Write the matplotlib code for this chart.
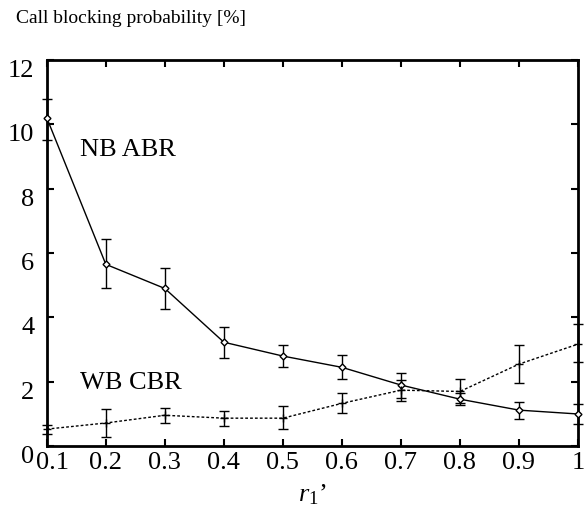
import matplotlib
matplotlib.use("Agg")
import matplotlib.pyplot as plt
import matplotlib.transforms as mtransforms

plt.rcParams["font.family"] = ["Liberation Serif", "DejaVu Serif"]
plt.rcParams["mathtext.fontset"] = "custom"
plt.rcParams["mathtext.rm"] = "Liberation Serif"
plt.rcParams["mathtext.it"] = "Liberation Serif:italic"

# r1' values
r1 = [0.1, 0.2, 0.3, 0.4, 0.5, 0.6, 0.7, 0.8, 0.9, 1.0]
x_labels = ["0.1", "0.2", "0.3", "0.4", "0.5", "0.6", "0.7", "0.8", "0.9", "1"]

# NB ABR call blocking probability [%] with error bar limits
nb_abr = [10.2, 5.65, 4.9, 3.23, 2.8, 2.45, 1.9, 1.46, 1.12, 1.0]
nb_hi = [10.8, 6.45, 5.53, 3.7, 3.14, 2.83, 2.27, 1.65, 1.37, 1.3]
nb_lo = [9.5, 4.9, 4.25, 2.73, 2.45, 2.08, 1.4, 1.27, 0.84, 0.7]

# WB CBR call blocking probability [%] with error bar limits
wb_cbr = [0.53, 0.72, 0.96, 0.87, 0.87, 1.33, 1.74, 1.7, 2.55, 3.17]
wb_hi = [0.65, 1.15, 1.18, 1.09, 1.24, 1.64, 2.05, 2.1, 3.15, 3.8]
wb_lo = [0.37, 0.3, 0.72, 0.62, 0.53, 1.02, 1.5, 1.35, 1.95, 2.6]

fig = plt.figure(figsize=(5.85, 5.17), dpi=100)
ax = fig.add_axes([0.08, 0.137, 0.908, 0.747])

nb_err = [[v - l for v, l in zip(nb_abr, nb_lo)], [h - v for v, h in zip(nb_abr, nb_hi)]]
wb_err = [[v - l for v, l in zip(wb_cbr, wb_lo)], [h - v for v, h in zip(wb_cbr, wb_hi)]]

ax.errorbar(r1, nb_abr, yerr=nb_err, color="black", lw=1.0, marker="D",
            markersize=3.5, markerfacecolor="white", markeredgewidth=1.0,
            capsize=3.5, elinewidth=1.0, capthick=1.0, clip_on=False, zorder=3)
ax.errorbar(r1, wb_cbr, yerr=wb_err, color="black", lw=1.0, ls=(0, (2, 1.5)),
            marker="+", markersize=6, markeredgewidth=1.0,
            capsize=3.5, elinewidth=1.0, capthick=1.0, clip_on=False, zorder=3)

ax.set_xlim(0.1, 1.0)
ax.set_ylim(0, 12)
ax.set_xticks(r1)
ax.set_xticklabels(x_labels)
ax.set_yticks([0, 2, 4, 6, 8, 10, 12])
ax.tick_params(direction="in", length=5, width=1.5, labelsize=19,
               top=True, right=True)
ax.tick_params(axis="x", pad=4)
ax.tick_params(axis="y", pad=9)
for lab in ax.get_yticklabels():
    lab.set_va("top")
# gnuplot-style: first x label nudged right next to the "0"
first = ax.get_xticklabels()[0]
first.set_transform(first.get_transform() +
                    mtransforms.ScaledTranslation(4 / 72, 0, fig.dpi_scale_trans))
for s in ax.spines.values():
    s.set_linewidth(2)

ax.text(0.156, 9.2, "NB ABR", fontsize=19, ha="left", va="center")
ax.text(0.156, 1.95, "WB CBR", fontsize=19, ha="left", va="center")

fig.text(0.027, 0.965, "Call blocking probability [%]", fontsize=14, ha="left", va="center")
ax.set_xlabel(r"$r_1$’", fontsize=19, labelpad=6)

plt.savefig("out.png", dpi=100)
plt.close()
